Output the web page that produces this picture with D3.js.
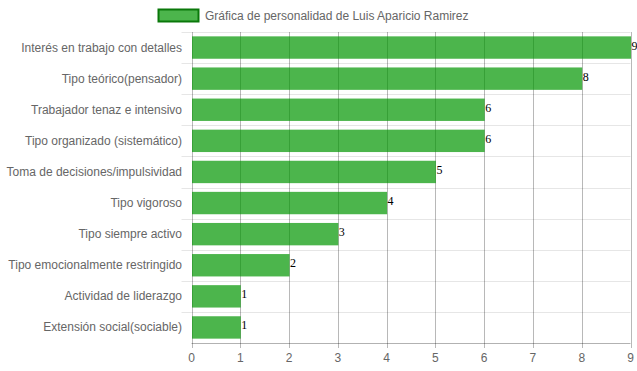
<!DOCTYPE html>
<html>
<head>
<meta charset="utf-8">
<script src="https://cdn.jsdelivr.net/npm/d3@7"></script>
<style>
  body { margin: 0; background: #fff; }
  text { font-family: "Liberation Sans", Arial, sans-serif; }
</style>
</head>
<body>
<svg id="drawing_region"></svg>
<script>
const categories = [
    "Interés en trabajo con detalles",
    "Tipo teórico(pensador)",
    "Trabajador tenaz e intensivo",
    "Tipo organizado (sistemático)",
    "Toma de decisiones/impulsividad",
    "Tipo vigoroso",
    "Tipo siempre activo",
    "Tipo emocionalmente restringido",
    "Actividad de liderazgo",
    "Extensión social(sociable)"
];
const values = [9, 8, 6, 6, 5, 4, 3, 2, 1, 1];
const xTicks = [0, 1, 2, 3, 4, 5, 6, 7, 8, 9];
const seriesName = "Gráfica de personalidad de Luis Aparicio Ramirez";

const config = {
    width: 637,
    height: 371,
    margin: {top: 32, right: 6.5, bottom: 28, left: 191.5}
};

const svg = d3.select('#drawing_region')
    .attr('width', config.width)
    .attr('height', config.height);

const innerBottom = config.height - config.margin.bottom;
const innerRight = config.width - config.margin.right;

const xscale = d3.scaleLinear()
    .domain([0, 9])
    .range([config.margin.left, innerRight]);

const yscale = d3.scaleBand()
    .domain(categories)
    .range([config.margin.top, innerBottom])
    .padding(0);

// horizontal grid lines at band edges
const edges = categories.map(c => yscale(c));
svg.append('g').selectAll('line')
    .data(edges)
    .enter()
    .append('line')
    .attr('x1', config.margin.left - 10)
    .attr('x2', innerRight)
    .attr('y1', d => Math.round(d) + 0.5)
    .attr('y2', d => Math.round(d) + 0.5)
    .attr('stroke', '#e6e6e6')
    .attr('stroke-width', 1);

// vertical grid lines at ticks
svg.append('g').selectAll('line')
    .data(xTicks)
    .enter()
    .append('line')
    .attr('x1', d => Math.round(xscale(d)) + 0.5)
    .attr('x2', d => Math.round(xscale(d)) + 0.5)
    .attr('y1', config.margin.top)
    .attr('y2', innerBottom + 5)
    .attr('stroke', 'rgba(0,0,0,0.28)')
    .attr('stroke-width', 1);

// x axis line
svg.append('line')
    .attr('x1', config.margin.left)
    .attr('x2', innerRight)
    .attr('y1', Math.round(innerBottom) + 0.5)
    .attr('y2', Math.round(innerBottom) + 0.5)
    .attr('stroke', 'rgba(0,0,0,0.3)');

// bars
const barH = yscale.bandwidth() * 0.72;
svg.append('g').selectAll('rect')
    .data(values)
    .enter()
    .append('rect')
    .attr('x', xscale(0) + 0.5)
    .attr('y', (d, i) => yscale(categories[i]) + (yscale.bandwidth() - barH) / 2)
    .attr('width', d => xscale(d) - xscale(0))
    .attr('height', barH)
    .attr('fill', 'rgba(0,150,0,0.7)');

// value labels
svg.append('g').selectAll('text')
    .data(values)
    .enter()
    .append('text')
    .attr('x', d => xscale(d) + 1)
    .attr('y', (d, i) => yscale(categories[i]) + yscale.bandwidth() / 2 - 2)
    .attr('dominant-baseline', 'central')
    .style('font-family', '"Liberation Serif", "Times New Roman", serif')
    .style('font-size', '12px')
    .attr('fill', '#000')
    .text(d => d);

// category labels
svg.append('g').selectAll('text')
    .data(categories)
    .enter()
    .append('text')
    .attr('x', config.margin.left - 9.5)
    .attr('y', d => yscale(d) + yscale.bandwidth() / 2)
    .attr('text-anchor', 'end')
    .attr('dominant-baseline', 'central')
    .style('font-size', '12px')
    .attr('fill', '#666')
    .text(d => d);

// x tick labels
svg.append('g').selectAll('text')
    .data(xTicks)
    .enter()
    .append('text')
    .attr('x', d => xscale(d))
    .attr('y', innerBottom + 15)
    .attr('text-anchor', 'middle')
    .attr('dominant-baseline', 'central')
    .style('font-size', '12px')
    .attr('fill', '#666')
    .text(d => d);

// legend
const legend = svg.append('g');
legend.append('rect')
    .attr('x', 158.5)
    .attr('y', 9.5)
    .attr('width', 40)
    .attr('height', 12)
    .attr('fill', 'rgba(0,150,0,0.7)')
    .attr('stroke', '#0a780a')
    .attr('stroke-width', 2);
legend.append('text')
    .attr('x', 205)
    .attr('y', 15.5)
    .attr('dominant-baseline', 'central')
    .style('font-size', '12px')
    .attr('fill', '#666')
    .text(seriesName);
</script>
</body>
</html>
